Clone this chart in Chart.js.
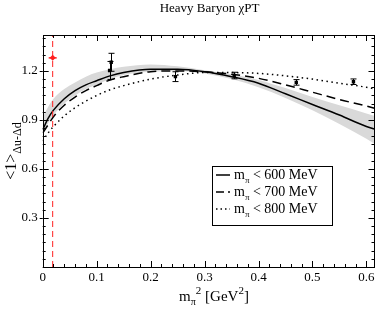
<!DOCTYPE html>
<html>
<head>
<meta charset="utf-8">
<script src="https://cdn.jsdelivr.net/npm/chart.js@4/dist/chart.umd.min.js"></script>
<style>
  html, body { margin: 0; padding: 0; background: #fff; }
  #wrap { width: 379px; height: 309px; }
</style>
</head>
<body>
<div id="wrap"><canvas id="chart" width="379" height="309"></canvas></div>
<script>
// m_pi^2 grid for the fit curves
const xGrid = [0, 0.01, 0.02, 0.04, 0.06, 0.08, 0.1, 0.125, 0.15, 0.2, 0.25, 0.3, 0.35, 0.4, 0.45, 0.5, 0.55, 0.6, 0.615];
const fit600 = [0.84, 0.91, 0.96, 1.03, 1.08, 1.115, 1.14, 1.17, 1.19, 1.21, 1.21, 1.195, 1.165, 1.125, 1.06, 0.995, 0.93, 0.86, 0.845];
const fit700 = [0.82, 0.87, 0.92, 0.99, 1.04, 1.08, 1.11, 1.145, 1.165, 1.195, 1.2, 1.195, 1.18, 1.155, 1.115, 1.07, 1.025, 0.985, 0.972];
const fit800 = [0.77, 0.82, 0.86, 0.925, 0.975, 1.015, 1.05, 1.085, 1.11, 1.15, 1.175, 1.19, 1.19, 1.185, 1.17, 1.15, 1.125, 1.1, 1.09];
const bandLow = [0.82, 0.88, 0.93, 1.0, 1.05, 1.09, 1.115, 1.15, 1.175, 1.195, 1.2, 1.185, 1.15, 1.1, 1.035, 0.96, 0.875, 0.785, 0.755];
const bandHigh = [0.92, 0.98, 1.03, 1.09, 1.13, 1.165, 1.19, 1.21, 1.225, 1.24, 1.228, 1.205, 1.18, 1.145, 1.095, 1.04, 0.99, 0.94, 0.925];

// lattice points
const latX = [0.124, 0.127, 0.246, 0.355, 0.47, 0.576];
const latY = [1.203, 1.253, 1.165, 1.172, 1.13, 1.134];
const latErr = [0.055, 0.055, 0.03, 0.02, 0.017, 0.017];

// physical point
const physX = 0.0185;
const physY = 1.28;

const xTicks = [0, 0.1, 0.2, 0.3, 0.4, 0.5, 0.6];
const yTicks = [0, 0.3, 0.6, 0.9, 1.2];
const legendLabels = ['< 600 MeV', '< 700 MeV', '< 800 MeV'];

const SERIF = '"Liberation Serif", "Times New Roman", serif';
const pts = ys => xGrid.map((x, i) => ({ x: x, y: ys[i] }));

// text with sub/superscripts: parts = [[text, size, dy]]
function drawParts(ctx, x, y, parts) {
  let cx = x;
  parts.forEach(p => {
    ctx.font = p[1] + 'px ' + SERIF;
    ctx.fillText(p[0], cx, y + (p[2] || 0));
    cx += ctx.measureText(p[0]).width;
  });
  return cx - x;
}
function partsWidth(ctx, parts) {
  let w = 0;
  parts.forEach(p => { ctx.font = p[1] + 'px ' + SERIF; w += ctx.measureText(p[0]).width; });
  return w;
}

const decorations = {
  id: 'decorations',
  afterDatasetsDraw(chart) {
    const ctx = chart.ctx;
    const xs = chart.scales.x, ys = chart.scales.y;
    ctx.save();
    // error bars
    ctx.strokeStyle = '#000';
    ctx.lineWidth = 1;
    latX.forEach((x, i) => {
      const px = Math.round(xs.getPixelForValue(x)) + 0.5;
      const top = ys.getPixelForValue(latY[i] + latErr[i]);
      const bot = ys.getPixelForValue(latY[i] - latErr[i]);
      ctx.beginPath();
      ctx.moveTo(px, top); ctx.lineTo(px, bot);
      ctx.moveTo(px - 3, top); ctx.lineTo(px + 3, top);
      ctx.moveTo(px - 3, bot); ctx.lineTo(px + 3, bot);
      ctx.stroke();
    });
    // physical point bar
    const ppx = xs.getPixelForValue(physX), ppy = ys.getPixelForValue(physY);
    ctx.strokeStyle = '#ff2020';
    ctx.lineWidth = 1.5;
    ctx.beginPath();
    ctx.moveTo(ppx - 4, ppy); ctx.lineTo(ppx + 4, ppy);
    ctx.stroke();
    ctx.restore();
  },
  afterDraw(chart) {
    const ctx = chart.ctx;
    const a = chart.chartArea;
    const xs = chart.scales.x, ys = chart.scales.y;
    ctx.save();
    ctx.fillStyle = '#000';
    ctx.strokeStyle = '#000';
    ctx.lineWidth = 1;

    // frame
    ctx.strokeRect(Math.round(a.left) + 0.5, Math.round(a.top) + 0.5,
      Math.round(a.right - a.left) - 1, Math.round(a.bottom - a.top));

    // inward ticks on all sides
    ctx.beginPath();
    for (let v = 0; v <= 0.6001; v += 0.02) {
      const major = Math.abs(v * 10 - Math.round(v * 10)) < 1e-6;
      const len = major ? 6 : 3;
      const px = Math.round(xs.getPixelForValue(v)) + 0.5;
      ctx.moveTo(px, a.bottom); ctx.lineTo(px, a.bottom - len);
      ctx.moveTo(px, a.top); ctx.lineTo(px, a.top + len);
    }
    for (let v = 0; v <= 1.4001; v += 0.05) {
      const major = Math.abs(v / 0.3 - Math.round(v / 0.3)) < 1e-6;
      const len = major ? 6 : 3;
      const py = Math.round(ys.getPixelForValue(v)) + 0.5;
      ctx.moveTo(a.left, py); ctx.lineTo(a.left + len, py);
      ctx.moveTo(a.right, py); ctx.lineTo(a.right - len, py);
      if (major && v > 0) { ctx.moveTo(a.left, py); ctx.lineTo(a.left - 3, py); }
    }
    ctx.stroke();

    // title
    ctx.textBaseline = 'alphabetic';
    ctx.textAlign = 'center';
    ctx.font = '13px ' + SERIF;
    ctx.fillText('Heavy Baryon \u03c7PT', 209.5, 12);

    // x axis title
    ctx.textAlign = 'left';
    const xt = [['m', 15, 0], ['\u03c0', 10, 4], ['2', 11, -7], [' [GeV', 15, 0], ['2', 11, -7], [']', 15, 0]];
    const xtw = partsWidth(ctx, xt);
    drawParts(ctx, 214 - xtw / 2, 301, xt);

    // y axis title (rotated)
    ctx.save();
    ctx.translate(16, 151);
    ctx.rotate(-Math.PI / 2);
    const yt = [['<1>', 16, 0], ['\u0394u-\u0394d', 12, 5]];
    const ytw = partsWidth(ctx, yt);
    drawParts(ctx, -ytw / 2, 0, yt);
    ctx.restore();

    // legend box
    const lx = 212.5, ly = 166.5, lw = 120, lh = 59;
    ctx.fillStyle = '#fff';
    ctx.fillRect(lx, ly, lw, lh);
    ctx.strokeRect(lx, ly, lw, lh);
    ctx.fillStyle = '#000';
    const dashes = [[], [8, 4], [1.5, 3]];
    legendLabels.forEach((lab, i) => {
      const ry = 179 + i * 17;
      ctx.save();
      ctx.lineWidth = 1.5;
      ctx.setLineDash(dashes[i]);
      ctx.beginPath();
      ctx.moveTo(216, ry - 4); ctx.lineTo(230, ry - 4);
      ctx.stroke();
      ctx.restore();
      drawParts(ctx, 234, ry, [['m', 14, 0], ['\u03c0', 9, 4], [' ' + lab, 14, 0]]);
    });
    ctx.restore();
  }
};

const lineBase = { pointRadius: 0, borderWidth: 1.5, borderColor: '#000', fill: false, cubicInterpolationMode: 'monotone' };

new Chart(document.getElementById('chart'), {
  type: 'line',
  data: {
    datasets: [
      { data: pts(bandLow), borderWidth: 0, pointRadius: 0, borderColor: 'rgba(0,0,0,0)', fill: false, cubicInterpolationMode: 'monotone', order: 10 },
      { data: pts(bandHigh), borderWidth: 0, pointRadius: 0, borderColor: 'rgba(0,0,0,0)', backgroundColor: '#d9d9d9', fill: '-1', cubicInterpolationMode: 'monotone', order: 9 },
      Object.assign({ data: pts(fit600), order: 3 }, lineBase),
      Object.assign({ data: pts(fit700), borderDash: [9, 5], order: 3 }, lineBase),
      Object.assign({ data: pts(fit800), borderDash: [1.5, 3.5], order: 3 }, lineBase),
      { data: [{ x: physX, y: 0 }, { x: physX, y: 1.42 }], borderColor: '#ff2020', borderWidth: 1, borderDash: [6, 4], pointRadius: 0, fill: false, order: 2 },
      { data: latX.map((x, i) => ({ x: x, y: latY[i] })), showLine: false, pointStyle: 'rect', pointRadius: 2.4, backgroundColor: '#000', borderColor: '#000', borderWidth: 0, order: 1 },
      { data: [{ x: physX, y: physY }], showLine: false, pointStyle: 'rectRot', pointRadius: 3, backgroundColor: '#ff2020', borderColor: '#ff2020', borderWidth: 0, order: 1 }
    ]
  },
  options: {
    responsive: false,
    animation: false,
    events: [],
    layout: { padding: { left: 0, right: 4.5, top: 35, bottom: 0 } },
    plugins: { legend: { display: false }, tooltip: { enabled: false }, title: { display: false } },
    scales: {
      x: {
        type: 'linear', min: 0, max: 0.615,
        grid: { display: false, drawTicks: false },
        border: { display: false },
        afterFit: s => { s.height = 42; },
        afterBuildTicks: s => { s.ticks = xTicks.map(v => ({ value: v })); },
        ticks: { padding: 3, color: '#000', font: { family: SERIF, size: 13 }, maxRotation: 0, autoSkip: false, callback: v => String(v) }
      },
      y: {
        type: 'linear', min: 0, max: 1.42,
        grid: { display: false, drawTicks: false },
        border: { display: false },
        afterFit: s => { s.width = 42.7; },
        afterBuildTicks: s => { s.ticks = yTicks.map(v => ({ value: v })); },
        ticks: { padding: 5, color: '#000', font: { family: SERIF, size: 13 }, autoSkip: false, callback: v => (v === 0 ? '' : v.toFixed(1)) }
      }
    }
  },
  plugins: [decorations]
});
</script>
</body>
</html>
